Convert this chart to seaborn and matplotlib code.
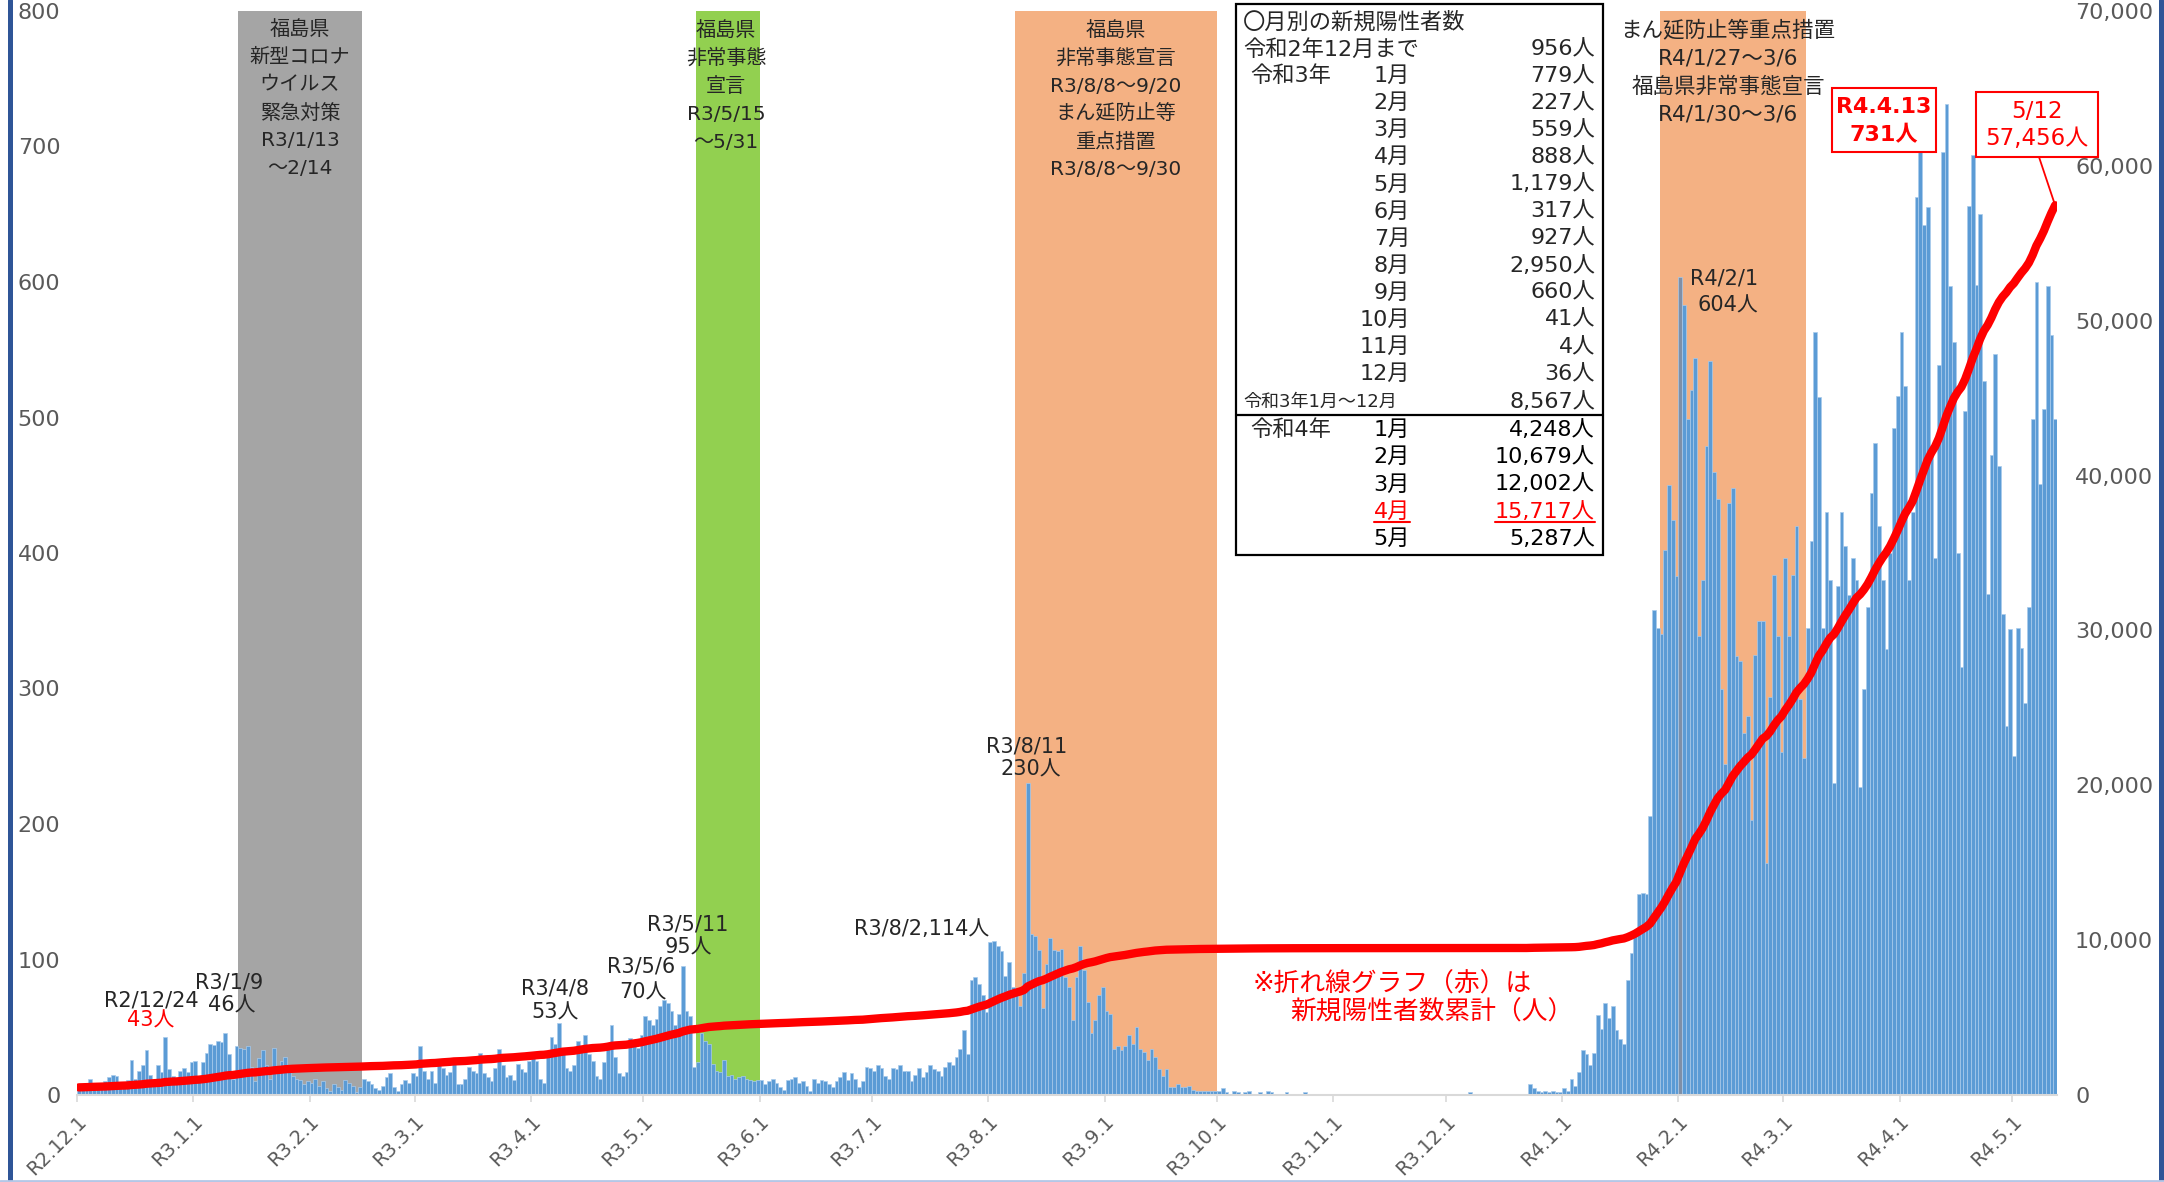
import numpy as np
import pandas as pd
import seaborn as sns
import matplotlib.pyplot as plt
from matplotlib.patches import Rectangle, ConnectionPatch
from matplotlib.lines import Line2D

# daily new positive cases, R2.12.1 - R4.5.12
dec_2020 = [4, 6, 9, 12, 8, 5, 7, 10, 13, 15, 14, 9, 6, 11, 26, 12, 18, 22, 33, 15,
            10, 22, 17, 43, 19, 14, 8, 18, 20, 17, 24]
jan_2021 = [25, 12, 24, 31, 38, 37, 40, 39, 46, 30, 12, 36, 35, 34, 36, 21, 10, 27, 33, 22,
            12, 35, 19, 25, 28, 17, 14, 12, 11, 8, 10]
feb_2021 = [9, 12, 7, 10, 5, 3, 8, 6, 4, 11, 9, 7, 2, 6, 12, 10, 8, 5, 4, 7,
            13, 16, 6, 3, 8, 11, 9, 16]
mar_2021 = [14, 36, 18, 12, 18, 9, 22, 20, 15, 17, 26, 8, 8, 12, 21, 18, 16, 31, 16, 13,
            10, 20, 34, 22, 13, 15, 11, 23, 19, 17, 25]
apr_2021 = [32, 25, 12, 9, 30, 43, 38, 53, 35, 20, 18, 22, 40, 36, 44, 30, 25, 14, 12, 24,
            38, 52, 28, 16, 14, 17, 42, 40, 35, 44]
may_2021 = [58, 55, 52, 56, 66, 70, 68, 62, 52, 60, 95, 62, 58, 21, 24, 46, 40, 38, 23, 18,
            17, 26, 14, 15, 12, 13, 14, 12, 11, 10, 11]
jun_2021 = [11, 8, 10, 12, 9, 6, 4, 11, 12, 13, 9, 10, 7, 3, 12, 9, 11, 10, 8, 6,
            10, 13, 17, 11, 16, 12, 6, 10, 21, 20]
jul_2021 = [18, 22, 20, 14, 12, 20, 19, 22, 18, 18, 10, 15, 20, 13, 17, 22, 19, 18, 14, 21,
            24, 22, 28, 34, 48, 30, 85, 87, 82, 74, 61]
aug_2021 = [113, 114, 110, 106, 88, 98, 80, 79, 66, 90, 230, 119, 117, 107, 64, 97, 116, 107, 106, 108,
            87, 80, 55, 87, 110, 92, 69, 46, 55, 74, 80]
sep_2021 = [62, 60, 34, 36, 33, 36, 44, 38, 50, 34, 32, 26, 34, 28, 19, 14, 19, 6, 6, 8,
            6, 6, 7, 4, 3, 3, 3, 3, 3, 3]
oct_2021 = [3, 5, 2, 1, 3, 2, 1, 2, 3, 1, 0, 2, 1, 3, 2, 1, 0, 1, 2, 1,
            0, 1, 0, 2, 1, 0, 1, 0, 0, 0, 0]
nov_2021 = [0, 0, 0, 1, 0, 0, 0, 0, 0, 0, 1, 0, 0, 0, 0, 0, 0, 1, 0, 0,
            0, 0, 0, 0, 0, 0, 1, 0, 0, 0]
dec_2021 = [0, 0, 0, 0, 1, 0, 2, 0, 1, 0, 0, 1, 0, 0, 1, 0, 0, 0, 0, 0,
            0, 0, 8, 5, 3, 2, 3, 2, 3, 2, 2]
jan_2022 = [5, 3, 12, 7, 17, 33, 30, 22, 31, 59, 49, 68, 57, 66, 48, 41, 38, 85, 105, 119,
            148, 149, 148, 206, 358, 345, 340, 402, 450, 424, 383]
feb_2022 = [604, 583, 499, 520, 544, 339, 380, 479, 542, 460, 440, 300, 244, 437, 448, 324, 320, 267, 280, 203,
            325, 350, 350, 171, 294, 384, 339, 253]
mar_2022 = [396, 339, 384, 420, 292, 249, 345, 409, 563, 515, 345, 430, 380, 230, 376, 430, 405, 369, 396, 380,
            227, 300, 360, 444, 481, 420, 380, 329, 400, 492, 516]
apr_2022 = [563, 523, 380, 430, 663, 696, 642, 655, 480, 396, 539, 696, 731, 597, 556, 400, 316, 505, 656, 694,
            598, 650, 527, 370, 472, 547, 464, 355, 272, 344]
may_2022 = [250, 345, 330, 289, 360, 499, 600, 451, 506, 597, 561, 499]

months = [dec_2020, jan_2021, feb_2021, mar_2021, apr_2021, may_2021, jun_2021, jul_2021,
          aug_2021, sep_2021, oct_2021, nov_2021, dec_2021, jan_2022, feb_2022, mar_2022,
          apr_2022, may_2022]
tick_labels = ['R2.12.1', 'R3.1.1', 'R3.2.1', 'R3.3.1', 'R3.4.1', 'R3.5.1', 'R3.6.1', 'R3.7.1',
               'R3.8.1', 'R3.9.1', 'R3.10.1', 'R3.11.1', 'R3.12.1', 'R4.1.1', 'R4.2.1', 'R4.3.1',
               'R4.4.1', 'R4.5.1']

# monthly table in the box
through_dec2020 = 956
r3_months = ['1月', '2月', '3月', '4月', '5月', '6月', '7月', '8月', '9月', '10月', '11月', '12月']
r3_totals = [779, 227, 559, 888, 1179, 317, 927, 2950, 660, 41, 4, 36]
r3_year_total = 8567
r4_months = ['1月', '2月', '3月', '4月', '5月']
r4_totals = [4248, 10679, 12002, 15717, 5287]

# measures shown as shaded bands
bands = [('2021-01-13', '2021-02-14', '#a5a5a5'),
         ('2021-05-15', '2021-05-31', '#92d050'),
         ('2021-08-08', '2021-09-30', '#f4b183'),
         ('2022-01-27', '2022-03-06', '#f4b183')]
gray_text = ['福島県', '新型コロナ', 'ウイルス', '緊急対策', 'R3/1/13', '～2/14']
green_text = ['福島県', '非常事態', '宣言', 'R3/5/15', '～5/31']
orange1_text = ['福島県', '非常事態宣言', 'R3/8/8～9/20', 'まん延防止等', '重点措置', 'R3/8/8～9/30']
orange2_text = ['まん延防止等重点措置', 'R4/1/27～3/6', '福島県非常事態宣言', 'R4/1/30～3/6']

cases = sum(months, [])
dates = pd.date_range('2020-12-01', periods=len(cases), freq='D')
df = pd.DataFrame({'day': np.arange(len(cases)), 'cases': cases})
df['total'] = through_dec2020 - sum(dec_2020) + df['cases'].cumsum()
month_starts = np.cumsum([0] + [len(m) for m in months[:-1]])


def day(s):
    return (pd.Timestamp(s) - dates[0]).days


sns.set_theme(style='white')
plt.rcParams['font.family'] = ['DejaVu Sans', 'Noto Sans CJK JP']

W, H = 2164, 1182
fig = plt.figure(figsize=(W / 100, H / 100), dpi=100)
ax = fig.add_axes([77 / W, 1 - 1095 / H, (2057 - 77) / W, (1095 - 11) / H])

for s, e, c in bands:
    ax.axvspan(day(s) - 0.5, day(e) + 0.5, color=c, lw=0, zorder=0)

sns.barplot(data=df, x='day', y='cases', native_scale=True, color='#5b9bd5', saturation=1,
            width=1.0, errorbar=None, edgecolor='#a9cbec', linewidth=0.5, ax=ax)
ax.containers[0][day('2022-02-01')].set_facecolor('#7f8fa6')

ax2 = ax.twinx()
sns.lineplot(data=df, x='day', y='total', color='#ff0000', linewidth=6, ax=ax2,
             solid_capstyle='round')

ax.set_xlim(-0.5, len(cases) - 0.5)
ax.set_ylim(0, 800)
ax2.set_ylim(0, 70000)
ax.set_xlabel('')
ax.set_ylabel('')
ax2.set_ylabel('')

ax.set_xticks(month_starts - 0.5, tick_labels, rotation=45, ha='right', rotation_mode='anchor')
ax.tick_params(axis='x', bottom=True, length=5, width=1.2, color='#d9d9d9',
               labelcolor='#595959', labelsize=14, pad=7)
ax.set_yticks(range(0, 801, 100))
ax.tick_params(axis='y', left=False, length=0, pad=12, labelsize=16, labelcolor='#595959')
ax2.set_yticks(range(0, 70001, 10000), [f'{v:,}' for v in range(0, 70001, 10000)])
ax2.tick_params(axis='y', right=False, length=0, pad=13, labelsize=16, labelcolor='#595959')

for a in (ax, ax2):
    for side in ('left', 'right', 'top'):
        a.spines[side].set_visible(False)
ax2.spines['bottom'].set_visible(False)
ax.spines['bottom'].set_color('#d9d9d9')
ax.spines['bottom'].set_linewidth(1.5)


def ptext(x, y, s, ha='center', va='center', **kw):
    return fig.text(x / W, 1 - y / H, s, ha=ha, va=va, **kw)


def stack(x, y0, step, lines, **kw):
    for k, s in enumerate(lines):
        ptext(x, y0 + step * k, s, **kw)


# band labels
stack(300, 29, 28, gray_text, size=14.5)
stack(726, 30, 28, green_text, size=14.5)
stack(1116, 30, 28, orange1_text, size=14.5)
stack(1728, 30, 28, orange2_text, size=15.5)

# peak labels
ptext(151, 1000, 'R2/12/24', size=15)
ptext(151, 1021, '43人', size=15, color='#ff0000')
ptext(229, 983, 'R3/1/9', size=15)
ptext(232, 1006, '46人', size=15)
ptext(555, 988, 'R3/4/8', size=15)
ptext(555, 1013, '53人', size=15)
ptext(641, 967, 'R3/5/6', size=15)
ptext(643, 993, '70人', size=15)
ptext(688, 925, 'R3/5/11', size=15)
ptext(688, 948, '95人', size=15)
ptext(922, 929, 'R3/8/2,114人', size=15)
ptext(1027, 747, 'R3/8/11', size=15)
ptext(1031, 770, '230人', size=15)
ptext(1724, 279, 'R4/2/1', size=15)
ptext(1728, 306, '604人', size=15)

ptext(1253, 985, '※折れ線グラフ（赤）は', ha='left', size=18.5, color='#ff0000')
ptext(1290, 1013, '新規陽性者数累計（人）', ha='left', size=18.5, color='#ff0000')

# boxed callouts
fig.add_artist(Rectangle((1832 / W, 1 - 152 / H), 104 / W, 64 / H, facecolor='white',
                         edgecolor='#ff0000', lw=1.5))
ptext(1884, 107, 'R4.4.13', size=16, color='#ff0000', weight='bold')
ptext(1884, 135, '731人', size=16, color='#ff0000', weight='bold')
fig.add_artist(Rectangle((1976 / W, 1 - 157 / H), 122 / W, 65 / H, facecolor='white',
                         edgecolor='#ff0000', lw=1.5))
ptext(2037, 111, '5/12', size=16.5, color='#ff0000')
ptext(2037, 138, '57,456人', size=16.5, color='#ff0000')
fig.add_artist(ConnectionPatch(xyA=(2039 / W, 1 - 157 / H), coordsA=fig.transFigure,
                               xyB=(df['day'].iloc[-1], df['total'].iloc[-1]),
                               coordsB=ax2.transData, color='#ff0000', lw=1.3))

# monthly table
fig.add_artist(Rectangle((1236 / W, 1 - 555 / H), 367 / W, 551 / H, facecolor='white',
                         edgecolor='black', lw=1.6))
fig.add_artist(Line2D([1236 / W, 1603 / W], [1 - 415 / H] * 2, color='black', lw=1.6))
ts = 16
ptext(1243, 22, '〇月別の新規陽性者数', ha='left', size=ts)
ptext(1243, 49, '令和2年12月まで', ha='left', size=ts)
ptext(1595, 49, f'{through_dec2020:,}人', ha='right', size=ts)
ptext(1250, 76, '令和3年', ha='left', size=ts)
for k, (m, v) in enumerate(zip(r3_months, r3_totals)):
    y = 76 + 27.1 * k
    ptext(1410, y, m, ha='right', size=ts)
    ptext(1595, y, f'{v:,}人', ha='right', size=ts)
ptext(1243, 402, '令和3年1月～12月', ha='left', size=13)
ptext(1595, 402, f'{r3_year_total:,}人', ha='right', size=ts)
ptext(1250, 430, '令和4年', ha='left', size=ts)
underlined = []
for k, (m, v) in enumerate(zip(r4_months, r4_totals)):
    y = 430 + 27.2 * k
    red = m == '4月'
    c = '#ff0000' if red else 'black'
    t1 = ptext(1410, y, m, ha='right', size=ts, color=c)
    t2 = ptext(1595, y, f'{v:,}人', ha='right', size=ts, color=c)
    if red:
        underlined += [t1, t2]

fig.canvas.draw()
for t in underlined:
    bb = t.get_window_extent()
    fig.add_artist(Line2D([bb.x0 / W, bb.x1 / W], [1 - 522 / H] * 2, color='#ff0000', lw=1.5))

# outer frame
fig.add_artist(Line2D([10 / W] * 2, [0, 1], color='#2f5597', lw=3.6))
fig.add_artist(Line2D([2161 / W] * 2, [0, 1], color='#2f5597', lw=3.6))
fig.add_artist(Line2D([0, 1], [1 - 1180.5 / H] * 2, color='#b4c7e7', lw=2))

fig.savefig('out.png', dpi=100)
